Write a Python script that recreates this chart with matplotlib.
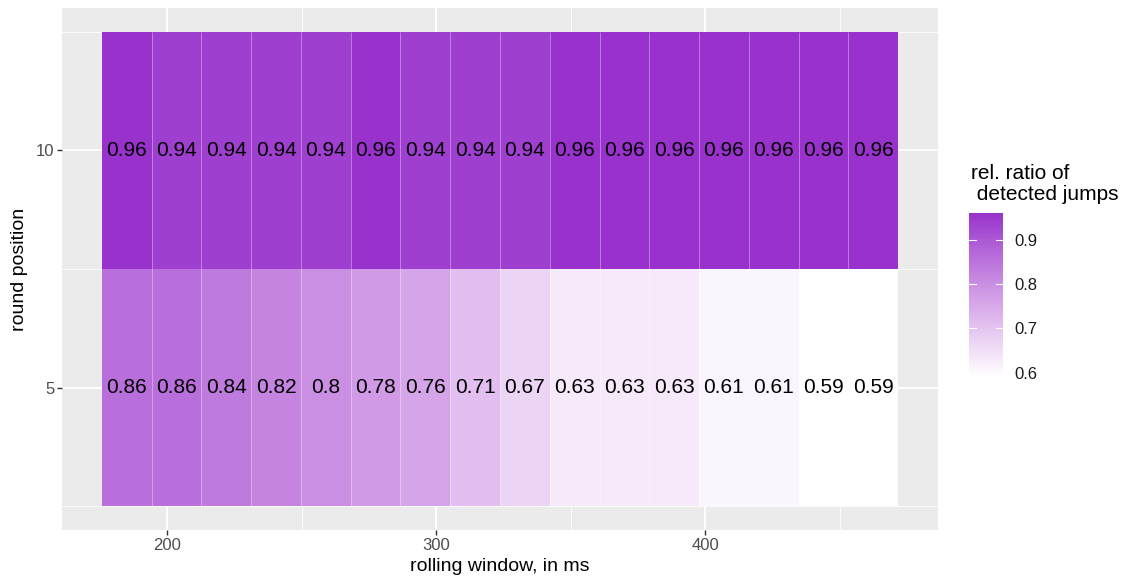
import numpy as np
import matplotlib
matplotlib.use('Agg')
from matplotlib import pyplot as plt
from matplotlib.colors import ListedColormap, Normalize

# rolling window sizes (ms) and round positions
windows = [185, 203.5, 222, 240.5, 259, 277.5, 296, 314.5,
           333, 351.5, 370, 388.5, 407, 425.5, 444, 462.5]
positions = [5, 10]

# relative ratio of detected jumps per round position
ratio_pos5 = [0.86, 0.86, 0.84, 0.82, 0.80, 0.78, 0.76, 0.71,
              0.67, 0.63, 0.63, 0.63, 0.61, 0.61, 0.59, 0.59]
ratio_pos10 = [0.96, 0.94, 0.94, 0.94, 0.94, 0.96, 0.94, 0.94,
               0.94, 0.96, 0.96, 0.96, 0.96, 0.96, 0.96, 0.96]

legend_title = "rel. ratio of\n detected jumps"

M = np.array([[0.4124564, 0.3575761, 0.1804375],
              [0.2126729, 0.7151522, 0.0721750],
              [0.0193339, 0.1191920, 0.9503041]])
WHITE = np.array([0.95047, 1.0, 1.08883])


def srgb_to_lab(rgb):
    c = np.asarray(rgb, float)
    lin = np.where(c <= 0.04045, c / 12.92, ((c + 0.055) / 1.055) ** 2.4)
    t = (M @ lin) / WHITE
    d = 6 / 29
    f = np.where(t > d ** 3, np.cbrt(t), t / (3 * d ** 2) + 4 / 29)
    return np.array([116 * f[1] - 16, 500 * (f[0] - f[1]), 200 * (f[1] - f[2])])


def lab_to_srgb(lab):
    L, a, b = lab
    fy = (L + 16) / 116
    f = np.array([fy + a / 500, fy, fy - b / 200])
    d = 6 / 29
    t = np.where(f > d, f ** 3, 3 * d ** 2 * (f - 4 / 29))
    xyz = t * WHITE[:, None]
    lin = np.linalg.inv(M) @ xyz
    c = np.where(lin <= 0.0031308, 12.92 * lin, 1.055 * np.clip(lin, 0, None) ** (1 / 2.4) - 0.055)
    return np.clip(c, 0, 1)


# white -> darkorchid gradient interpolated in Lab space
lo = srgb_to_lab([1.0, 1.0, 1.0])
hi = srgb_to_lab([0x99 / 255, 0x32 / 255, 0xCC / 255])
s = np.linspace(0, 1, 256)
lab = lo[:, None] * (1 - s) + hi[:, None] * s
cmap = ListedColormap(lab_to_srgb(lab).T)

plt.rcParams['font.family'] = ['Liberation Sans', 'DejaVu Sans']

fig = plt.figure(figsize=(11.39, 5.81), dpi=100)
ax = fig.add_axes([62 / 1139, 1 - 530 / 581, 876 / 1139, 522 / 581])
ax.set_facecolor('#EBEBEB')

x = np.array(windows)
step = x[1] - x[0]
x_edges = np.r_[x - step / 2, x[-1] + step / 2]
y = np.array(positions, float)
y_edges = np.array([2.5, 7.5, 12.5])
z = np.array([ratio_pos5, ratio_pos10])
vmin, vmax = z.min(), z.max()
norm = Normalize(vmin, vmax)

ax.pcolormesh(x_edges, y_edges, z, cmap=cmap, norm=norm,
              edgecolors='none', zorder=2)
# faint separators between neighbouring tiles
ax.vlines(x_edges[1:-1], y_edges[0], y_edges[-1], color='white',
          alpha=0.35, linewidth=0.7, zorder=2.5)

for j, yy in enumerate(y):
    for i, xx in enumerate(x):
        ax.text(xx, yy, f"{z[j, i]:g}", ha='center', va='center',
                fontsize=15, color='black', zorder=3)

xr = x_edges[-1] - x_edges[0]
ax.set_xlim(x_edges[0] - 0.05 * xr, x_edges[-1] + 0.05 * xr)
ax.set_ylim(2.0, 13.0)

ax.set_xticks([200, 300, 400])
ax.set_xticks([250, 350, 450], minor=True)
ax.set_yticks([5, 10])
ax.set_yticks([2.5, 7.5, 12.5], minor=True)
ax.grid(which='major', color='white', linewidth=1.3, zorder=0)
ax.grid(which='minor', color='white', linewidth=0.6, zorder=0)
ax.set_axisbelow(True)
for sp in ax.spines.values():
    sp.set_visible(False)
ax.tick_params(which='major', length=3.5, width=1, color='#333333',
               labelsize=12, labelcolor='#4D4D4D', pad=2)
ax.tick_params(which='minor', length=0)

ax.set_xlabel("rolling window, in ms", fontsize=14, labelpad=4)
ax.set_ylabel("round position", fontsize=14, labelpad=6)

# colour bar legend
cax = fig.add_axes([969 / 1139, 1 - 377 / 581, 34 / 1139, 164 / 581])
grad = np.linspace(vmin, vmax, 300)[:, None]
cax.imshow(grad, aspect='auto', origin='lower', cmap=cmap, norm=norm,
           extent=[0, 1, vmin, vmax])
cax.set_xlim(0, 1)
cax.set_ylim(vmin, vmax)
bar_ticks = [0.6, 0.7, 0.8, 0.9]
for t in bar_ticks:
    cax.plot([0, 0.2], [t, t], color='white', lw=0.8)
    cax.plot([0.8, 1], [t, t], color='white', lw=0.8)
cax.set_xticks([])
cax.set_yticks(bar_ticks)
cax.yaxis.tick_right()
cax.tick_params(axis='y', length=0, labelsize=12, labelcolor='#1A1A1A', pad=8)
for sp in cax.spines.values():
    sp.set_visible(False)

fig.text(971 / 1139, 1 - 184 / 581, legend_title, fontsize=15,
         ha='left', va='center', linespacing=1.1)

fig.savefig('out.png', dpi=100)
